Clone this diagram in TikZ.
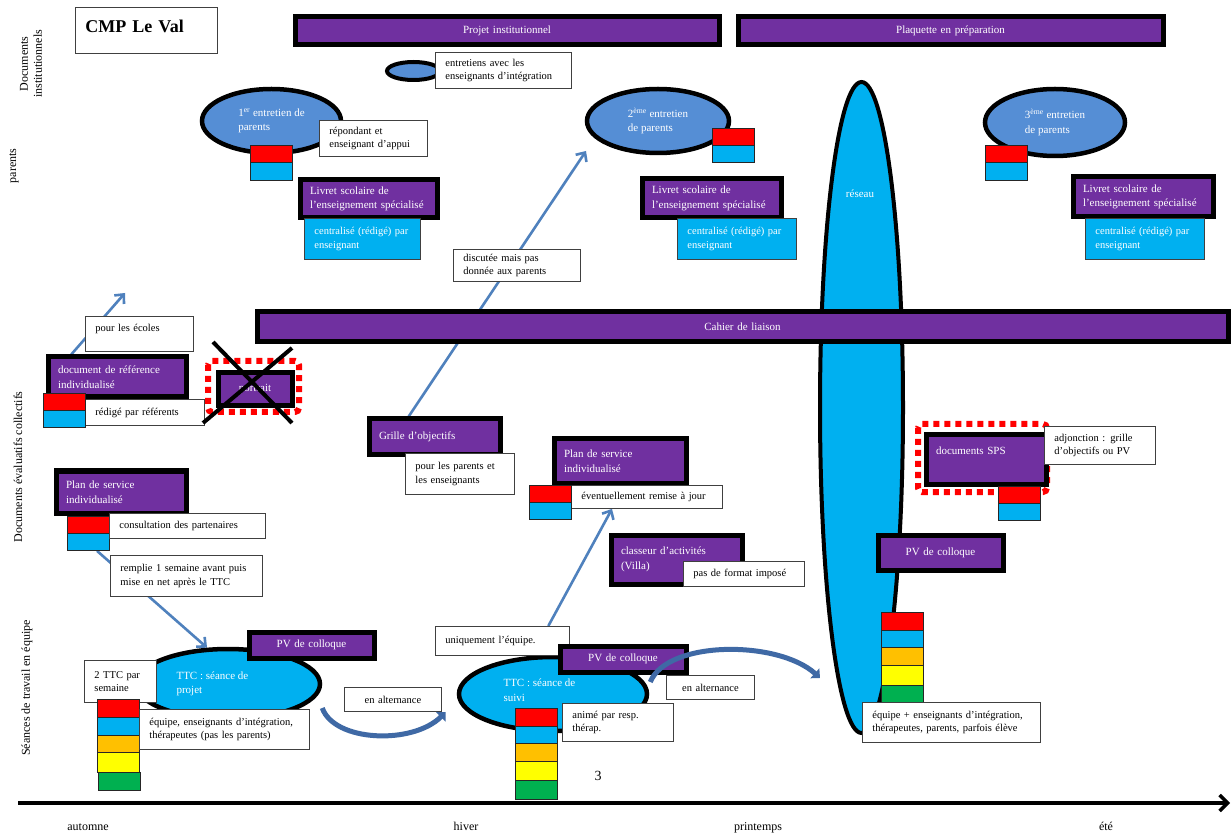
\documentclass[tikz,border=0pt]{standalone}
\usepackage{fontspec}
\setmainfont{Liberation Serif}
\usetikzlibrary{shapes.geometric,arrows.meta,calc}
\pgfdeclarelayer{paper}
\pgfdeclarelayer{back}
\pgfsetlayers{paper,back,main}

\definecolor{vio}{HTML}{7030A0}
\definecolor{cyanb}{HTML}{00B0F0}
\definecolor{ellb}{HTML}{558ED5}
\definecolor{redc}{HTML}{FF0000}
\definecolor{oran}{HTML}{FFC000}
\definecolor{yel}{HTML}{FFFF00}
\definecolor{grn}{HTML}{00B050}
\definecolor{arrb}{HTML}{4F81BD}
\definecolor{curvb}{HTML}{3F69A5}

\newcommand\fsm{\fontsize{10.5}{13.5}\selectfont}
\newcommand\fpu{\fontsize{11}{14.5}\selectfont}
\newcommand\fax{\fontsize{12}{14}\selectfont}

\tikzset{
  pbox/.style={fill=vio, draw=black, line width=5pt, text=white, font=\fpu, align=left},
  wbox/.style={fill=white, draw=black!75, line width=0.9pt, text=black, font=\fsm, align=left},
  cbox/.style={fill=cyanb, draw=black!75, line width=0.9pt, text=white, font=\fsm, align=left},
  chip/.style={draw=black!85, line width=0.9pt, anchor=north west, minimum width=42pt, inner sep=0pt},
  blob/.style={ellipse, draw=black, line width=4.5pt, inner sep=0pt, text=white, font=\fpu, align=left},
  redframe/.style={draw=redc, line width=6pt, dash pattern=on 6pt off 5pt, rounded corners=4pt},
  xmark/.style={draw=black, line width=4pt},
  link/.style={draw=arrb, line width=2.6pt, -{Straight Barb[length=7pt,width=13pt]}},
  swing/.style={draw=curvb, line width=5pt, -{Triangle[length=7pt,width=13pt]}},
  axislab/.style={font=\fax, text=black},
  season/.style={font=\fax, text=black, anchor=base},
  intext/.style={font=\fpu, text=white, align=left},
}

% white (or coloured) label box from its corners: name, x1, y1, x2, y2, text
\newcommand\wbx[7][]{%
  \pgfmathsetmacro\BxW{#5-#3}\pgfmathsetmacro\BxH{#6-#4}\pgfmathsetmacro\BxT{#5-#3-20}%
  \node[wbox, anchor=north west, inner xsep=10pt, inner ysep=0pt,
        minimum width=\BxW pt, minimum height=\BxH pt, text width=\BxT pt, #1] (#2) at (#3,#4) {#7};}
% purple document box with a heavy black frame, outer corners given
\newcommand\pbx[7][]{%
  \pgfmathsetmacro\BxX{#3+2.5}\pgfmathsetmacro\BxY{#4+2.5}%
  \pgfmathsetmacro\BxW{#5-#3-5}\pgfmathsetmacro\BxH{#6-#4-5}\pgfmathsetmacro\BxT{#5-#3-5-20}%
  \node[pbox, anchor=north west, inner xsep=10pt, inner ysep=0pt,
        minimum width=\BxW pt, minimum height=\BxH pt, text width=\BxT pt, #1] (#2) at (\BxX,\BxY) {#7};}
% coloured participant chip: name, x, y, height, colour
\newcommand\chip[5]{\node[chip, fill=#5, minimum height=#4pt] (#1) at (#2,#3) {};}

\begin{document}
\begin{tikzpicture}[x=1pt,y=-1pt]
\begin{pgfonlayer}{paper}
  \path[use as bounding box, fill=white] (0,0) rectangle (1232,832);
\end{pgfonlayer}

% row titles
\node[axislab, rotate=90, align=center] (rowInst) at (31,64) {Documents\\institutionnels};
\node[axislab, rotate=90] (rowPar) at (14,166) {parents};
\node[axislab, rotate=90] (rowEval) at (18,467) {Documents évaluatifs collectifs};
\node[axislab, rotate=90] (rowTeam) at (27,688) {Séances de travail en équipe};

% network, behind the liaison bar
\node[blob, fill=cyanb, line width=4pt, minimum width=83pt, minimum height=651pt] (reseau) at (861.5,407.5) {};
\node[intext] (reseauT) at (860,194) {réseau};

% institutional documents
\wbx[font=\fontsize{18}{20}\selectfont\bfseries, text height=25pt, text depth=21pt]{title}{75}{7}{217}{53}{CMP Le Val}
\pbx[align=center]{proj}{290}{12}{719}{45}{Projet institutionnel}
\pbx[align=center]{plaq}{733}{12}{1163}{45}{Plaquette en préparation}

\node[blob, fill=ellb, line width=4pt, minimum width=53pt, minimum height=18pt] (entS) at (413.5,71) {};
\wbx{entInfo}{435}{52}{571}{88}{entretiens avec les\\enseignants d’intégration}

% parents
\node[blob, fill=ellb, minimum width=139pt, minimum height=64pt] (ent1) at (271.5,121) {1\textsuperscript{er} entretien de\\parents};
\wbx{rep1}{319}{120}{427}{156}{répondant et\\enseignant d’appui}
\chip{ent1R}{250}{145}{17}{redc}
\chip{ent1B}{250}{162}{18}{cyanb}
\pbx{livret1}{295}{175}{437}{218}{Livret scolaire de\\l’enseignement spécialisé}
\wbx[cbox]{cent1}{304}{218}{420}{259}{centralisé (rédigé) par\\enseignant}

\node[blob, fill=ellb, minimum width=142pt, minimum height=64pt] (ent2) at (658,121) {2\textsuperscript{ème} entretien\\de parents};
\chip{ent2R}{712}{128}{17}{redc}
\chip{ent2B}{712}{145}{17}{cyanb}
\pbx{livret2}{637}{174}{781}{218}{Livret scolaire de\\l’enseignement spécialisé}
\wbx[cbox]{cent2}{677}{218}{796}{259}{centralisé (rédigé) par\\enseignant}

\node[blob, fill=ellb, minimum width=140pt, minimum height=67pt] (ent3) at (1055,122.5) {3\textsuperscript{ème} entretien\\de parents};
\chip{ent3R}{985}{145}{17}{redc}
\chip{ent3B}{985}{162}{18}{cyanb}
\pbx{livret3}{1068}{172}{1213}{217}{Livret scolaire de\\l’enseignement spécialisé}
\wbx[cbox]{cent3}{1085}{218}{1204}{259}{centralisé (rédigé) par\\enseignant}

\wbx{disc}{453}{249}{580}{281}{discutée mais pas\\donnée aux parents}
\pbx[align=center]{cahier}{252}{307}{1228}{342}{Cahier de liaison}

% collective evaluation documents
\wbx[text height=15pt, text depth=20pt]{ecoles}{85}{316}{193}{351}{pour les écoles}
\pbx{docref}{43}{352}{186}{397}{document de référence\\individualisé}
\wbx{redige}{85}{399}{204}{425}{rédigé par référents}
\chip{docrefR}{43}{393}{17}{redc}
\chip{docrefB}{43}{410}{17}{cyanb}

\draw[redframe] (208,361) rectangle (299,412);
\pbx[align=center]{portrait}{213}{368}{292}{406}{portrait}
\draw[xmark] (213,342) -- (292,423) (292,348) -- (203,423);

\pbx{grille}{364}{414}{500}{455}{Grille d’objectifs}
\wbx{pourpar}{405}{453}{514}{494}{pour les parents et\\les enseignants}

\pbx{psi2}{549}{434}{686}{483}{Plan de service\\individualisé}
\wbx{event}{571}{485}{722}{508}{éventuellement remise à jour}
\chip{psi2R}{529}{485}{17}{redc}
\chip{psi2B}{529}{502}{17}{cyanb}

\pbx{classeur}{606}{530}{742}{584}{classeur d’activités\\(Villa)}
\wbx{pasformat}{683}{561}{804}{586}{pas de format imposé}

\draw[redframe] (918,424) rectangle (1047,492);
\pbx[text height=20pt, text depth=29pt]{sps}{921}{430}{1046}{484}{documents SPS}
\wbx{adj}{1044}{426}{1155}{464}{adjonction : grille\\d’objectifs ou PV}
\chip{spsR}{998}{486}{17}{redc}
\chip{spsB}{998}{503}{17}{cyanb}

\pbx{psi1}{51}{466}{186}{513}{Plan de service\\individualisé}
\chip{psi1R}{67}{516}{17}{redc}
\chip{psi1B}{67}{533}{17}{cyanb}
\wbx{consult}{109}{513}{265}{538}{consultation des partenaires}
\wbx{remplie}{110}{555}{262}{596}{remplie 1 semaine avant puis\\mise en net après le TTC}

% team sessions
\pbx[align=center]{pv3}{873}{530}{1003}{570}{PV de colloque}
\chip{st3R}{881}{612}{18}{redc}
\chip{st3B}{881}{630}{17}{cyanb}
\chip{st3O}{881}{647}{18}{oran}
\chip{st3Y}{881}{665}{20}{yel}
\chip{st3G}{881}{685}{18}{grn}
\wbx{equipe3}{862}{702}{1040}{742}{équipe + enseignants d’intégration,\\thérapeutes, parents, parfois élève}

\node[blob, fill=cyanb, minimum width=184pt, minimum height=70pt] (ttc1) at (228,684) {};
\node[intext, anchor=west] (ttc1T) at (173,684) {TTC : séance de\\projet};
\pbx[align=center]{pv1}{244}{627}{374}{658}{PV de colloque}
\wbx{deuxttc}{84}{660}{156}{702}{2 TTC par\\semaine}
\chip{st1R}{97}{699}{18}{redc}
\chip{st1B}{97}{717}{18}{cyanb}
\chip{st1O}{97}{735}{17}{oran}
\chip{st1Y}{97}{752}{20}{yel}
\chip{st1G}{98}{772}{18}{grn}
\wbx{equipe1}{139}{709}{309}{749}{équipe, enseignants d’intégration,\\thérapeutes (pas les parents)}
\wbx[align=center]{altern1}{344}{687}{441}{711}{en alternance}

\node[blob, fill=cyanb, minimum width=188pt, minimum height=74pt] (ttc2) at (553,694) {};
\node[intext, anchor=west] (ttc2T) at (500,690) {TTC : séance de\\suivi};
\wbx{uniq}{435}{626}{569}{655}{uniquement l’équipe.}
\pbx[align=center]{pv2}{555}{641}{686}{672}{PV de colloque}
\chip{st2R}{515}{708}{18}{redc}
\chip{st2B}{515}{726}{17}{cyanb}
\chip{st2O}{515}{743}{18}{oran}
\chip{st2Y}{515}{761}{19}{yel}
\chip{st2G}{515}{780}{19}{grn}
\wbx{anime}{562}{703}{673}{741}{animé par resp.\\thérap.}
\wbx[align=center]{altern2}{666}{675}{754}{699}{en alternance}

\node[font=\fontsize{14}{16}\selectfont] (pageNo) at (598,776) {3};

% alternation between the two kinds of sessions
\draw[swing] ($(ttc1.east)+(0,24)$) .. controls ($(ttc1.east)+(12,58)$) and ($(ttc2.west)+(-44,51)$) .. ($(ttc2.west)+(-11,18)$);
\draw[swing] ($(ttc2.east)+(1,-12)$) .. controls ($(ttc2.east)+(18,-54)$) and ($(reseau.west)+(-40,232.5)$) .. ($(reseau.west)+(2,270.5)$);

% links between documents, under the boxes
\begin{pgfonlayer}{back}
  \coordinate (ecolesTip) at (125,293);
  \draw[link] ($(docref.north west)!0.18!(docref.north east)$) -- (ecolesTip);
  \coordinate (ent2Tip) at (586,151);
  \draw[link] ($(grille.north west)!0.31!(grille.north east)$) -- (ent2Tip);
  \draw[link] ($(psi1B.south)!0.4!(psi1B.south east)$) -- (ttc1.120);
  \draw[link] ($(uniq.north west)!0.84!(uniq.north east)$) -- ($(event.south west)!0.27!(event.south east)$);
\end{pgfonlayer}

% time line
\coordinate (tStart) at (18,803);
\coordinate (tEnd) at (1230,803);
\draw[line width=3.5pt, -{Straight Barb[length=8pt,width=16pt]}] (tStart) -- (tEnd);
\node[season] (sAut) at (88,830) {automne};
\node[season] (sHiv) at (466,830) {hiver};
\node[season] (sPri) at (758,830) {printemps};
\node[season] (sEte) at (1106,830) {été};
\end{tikzpicture}
\end{document}
